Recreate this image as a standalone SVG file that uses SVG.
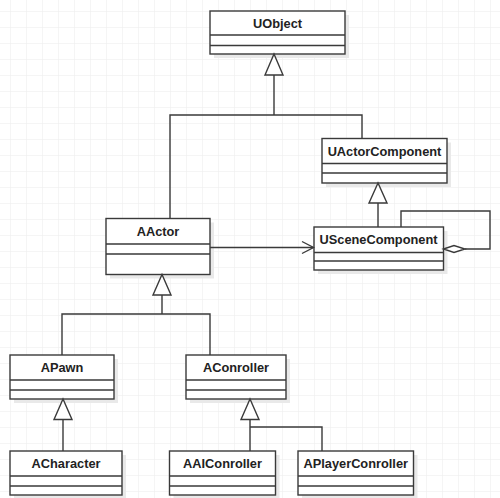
<svg xmlns="http://www.w3.org/2000/svg" width="500" height="498" viewBox="0 0 500 498">
<defs>
<pattern id="grid" patternUnits="userSpaceOnUse" x="10" y="11" width="16" height="16">
<path d="M0 0 H16 M0 0 V16" fill="none" stroke="#ececec" stroke-width="1"/>
</pattern>
<style>
.box{fill:#ffffff;stroke:#3a3a3a;stroke-width:1.4}
.sh{fill:#e9e9e9}
.div{stroke:#3a3a3a;stroke-width:1.4;fill:none}
.name{font-family:"Liberation Sans",Arial,sans-serif;font-weight:bold;font-size:12.8px;fill:#222;text-anchor:middle}
.ln{fill:none;stroke:#3a3a3a;stroke-width:1.4}
.tri{fill:#ffffff;stroke:#3a3a3a;stroke-width:1.4}
</style>
</defs>
<rect x="0" y="0" width="500" height="498" fill="#ffffff"/>
<rect x="0" y="0" width="500" height="498" fill="url(#grid)"/>

<g id="UObject">
<rect class="sh" x="214" y="15" width="135" height="43"/>
<rect class="box" x="210" y="11" width="135" height="43"/>
<path class="div" d="M210 35 H345 M210 45.5 H345"/>
<text class="name" x="277.5" y="27.5">UObject</text>
</g>
<g id="UActorComponent">
<rect class="sh" x="326" y="142.5" width="125" height="44.5"/>
<rect class="box" x="322" y="138.5" width="125" height="44.5"/>
<path class="div" d="M322 163.5 H447 M322 173 H447"/>
<text class="name" x="384.5" y="155.5">UActorComponent</text>
</g>
<g id="USceneComponent">
<rect class="sh" x="318" y="231" width="129.5" height="43"/>
<rect class="box" x="314" y="227" width="129.5" height="43"/>
<path class="div" d="M314 252.5 H443.5 M314 261 H443.5"/>
<text class="name" x="378.5" y="244">USceneComponent</text>
</g>
<g id="AActor">
<rect class="sh" x="110" y="222.5" width="104" height="56"/>
<rect class="box" x="106" y="218.5" width="104" height="56"/>
<path class="div" d="M106 244 H210 M106 254 H210"/>
<text class="name" x="158" y="235.5">AActor</text>
</g>
<g id="APawn">
<rect class="sh" x="14" y="359" width="104" height="44"/>
<rect class="box" x="10" y="355" width="104" height="44"/>
<path class="div" d="M10 380 H114 M10 390 H114"/>
<text class="name" x="62" y="371.5">APawn</text>
</g>
<g id="AConroller">
<rect class="sh" x="190" y="359" width="100" height="44"/>
<rect class="box" x="186" y="355" width="100" height="44"/>
<path class="div" d="M186 380 H286 M186 390 H286"/>
<text class="name" x="236" y="371.5">AConroller</text>
</g>
<g id="ACharacter">
<rect class="sh" x="14" y="455" width="112" height="44"/>
<rect class="box" x="10" y="451" width="112" height="44"/>
<path class="div" d="M10 476 H122 M10 486 H122"/>
<text class="name" x="66" y="467.5">ACharacter</text>
</g>
<g id="AAIConroller">
<rect class="sh" x="173.5" y="455" width="106" height="44"/>
<rect class="box" x="169.5" y="451" width="106" height="44"/>
<path class="div" d="M169.5 476 H275.5 M169.5 486 H275.5"/>
<text class="name" x="222.5" y="467.5">AAIConroller</text>
</g>
<g id="APlayerConroller">
<rect class="sh" x="302" y="455" width="115.5" height="44"/>
<rect class="box" x="298" y="451" width="115.5" height="44"/>
<path class="div" d="M298 476 H413.5 M298 486 H413.5"/>
<text class="name" x="355.75" y="467.5">APlayerConroller</text>
</g>

<g id="connectors">
<path class="ln" d="M170 218.5 V115 H274 V75 M362 138.5 V115 H274"/>
<polygon class="tri" points="274,54 265,75 283,75"/>
<path class="ln" d="M378 227 V203"/>
<polygon class="tri" points="378,183 369,203 387,203"/>
<path class="ln" d="M401 227 V211 H490 V249 H465"/>
<polygon class="tri" points="443.5,249 454,245.5 465,249 454,252.5"/>
<path class="ln" d="M210 247.5 H313"/>
<path class="ln" d="M302 241.5 L313.5 247.5 L302 253.5"/>
<path class="ln" d="M62 355 V314 H210 V355 M162 295 V314"/>
<polygon class="tri" points="162,274.5 153,295 171,295"/>
<path class="ln" d="M63 419.5 V451"/>
<polygon class="tri" points="63,399 54,419.5 72,419.5"/>
<path class="ln" d="M250 419.5 V451 M322 451 V427 H250"/>
<polygon class="tri" points="250,399 241,419.5 259,419.5"/>
</g>
</svg>
